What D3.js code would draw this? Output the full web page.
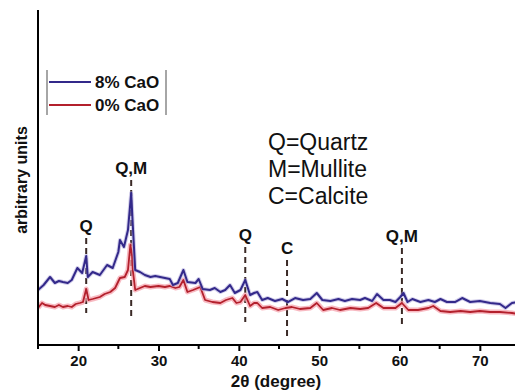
<!DOCTYPE html>
<html>
<head>
<meta charset="utf-8">
<script src="https://cdn.jsdelivr.net/npm/d3@7"></script>
<style>
  body { margin: 0; background: #fff; }
  text { font-family: "Liberation Sans", Arial, sans-serif; }
</style>
</head>
<body>
<div id="xrd"></div>
<script>
// 2theta (degree) and intensity (arbitrary units)
var twoTheta8 = [15.0, 15.7, 16.5, 17.1, 17.6, 18.1, 18.7, 19.2, 19.9, 20.5, 21.0, 21.2, 21.8, 22.7, 23.6, 24.3, 25.0, 25.2, 25.7, 26.2, 26.6, 26.8, 27.1, 27.7, 28.3, 29.0, 29.6, 30.2, 30.8, 31.4, 31.8, 32.4, 33.1, 33.6, 34.6, 35.0, 35.5, 36.4, 37.0, 37.7, 38.3, 38.9, 39.5, 40.2, 40.8, 41.4, 41.9, 42.3, 42.9, 43.6, 44.5, 45.4, 46.1, 47.0, 48.0, 48.9, 49.7, 50.4, 51.4, 52.4, 53.2, 54.1, 55.1, 55.7, 56.6, 57.2, 58.0, 58.8, 59.5, 60.1, 60.5, 61.0, 61.6, 62.6, 63.6, 64.4, 65.1, 65.9, 66.9, 67.8, 68.8, 70.0, 71.3, 72.5, 73.2, 74.0, 74.8];
var cao8 = [55, 60, 68, 62, 64, 63, 62, 65, 77, 72, 89, 68, 73, 70, 80, 77, 93, 105, 98, 115, 152, 120, 75, 73, 70, 68, 69, 68, 67, 66, 60, 62, 75, 63, 62, 66, 56, 55, 57, 53, 55, 60, 52, 55, 65, 50, 52, 53, 45, 47, 44, 46, 43, 47, 45, 46, 52, 45, 44, 46, 44, 46, 45, 47, 44, 51, 45, 45, 43, 48, 52, 43, 46, 43, 45, 43, 46, 43, 43, 47, 43, 44, 42, 41, 37, 42, 43];

var twoTheta0 = [15.0, 15.5, 15.9, 16.5, 17.1, 17.6, 18.1, 18.7, 19.2, 19.7, 20.2, 20.6, 21.0, 21.3, 21.8, 22.7, 23.3, 24.0, 24.6, 25.2, 25.8, 26.2, 26.5, 26.7, 26.8, 27.1, 27.7, 28.3, 29.0, 30.0, 30.8, 31.4, 32.1, 32.6, 33.1, 33.6, 34.3, 35.2, 35.8, 36.7, 37.7, 38.4, 39.2, 39.7, 40.2, 40.8, 41.4, 41.9, 42.3, 42.9, 43.9, 44.9, 45.8, 46.6, 47.6, 48.9, 49.7, 50.5, 51.6, 52.6, 53.9, 55.1, 56.1, 57.1, 58.0, 58.8, 59.5, 60.3, 61.1, 62.3, 63.6, 64.2, 65.1, 66.3, 67.6, 68.8, 70.0, 71.3, 72.5, 74.0, 74.8];
var cao0 = [37, 42, 40, 39, 38, 40, 38, 39, 38, 41, 42, 43, 56, 45, 46, 48, 51, 53, 57, 67, 68, 75, 100, 90, 75, 55, 57, 59, 58, 59, 58, 59, 57, 58, 65, 53, 55, 58, 45, 43, 42, 45, 47, 42, 43, 50, 39, 42, 42, 37, 38, 35, 37, 38, 36, 37, 42, 35, 37, 35, 37, 36, 37, 42, 37, 37, 37, 42, 35, 35, 37, 39, 34, 33, 34, 33, 34, 33, 33, 32, 31];

// peak markers: position, label, dashed line top / bottom (intensity)
var peakPos = [21.0, 26.6, 40.8, 46.0, 60.3];
var peakLabels = ["Q", "Q,M", "Q", "C", "Q,M"];
var peakTop = [107, 165, 98, 85, 97];
var peakBottom = [32, 25, 23, 8, 20];

var xTicks = [20, 30, 40, 50, 60, 70];
var xMinor = [15, 25, 35, 45, 55, 65, 75];
var seriesNames = ["8% CaO", "0% CaO"];
var phaseKey = ["Q=Quartz", "M=Mullite", "C=Calcite"];

var width = 515, height = 391;
var margin = {top: 10, right: 0, bottom: 46, left: 38};

var svg = d3.select("#xrd").append("svg")
  .attr("width", width)
  .attr("height", height);

var x = d3.scaleLinear().domain([15, 75]).range([margin.left, 520]);
var y = d3.scaleLinear().domain([0, 335]).range([height - margin.bottom, margin.top]);

svg.append("defs").append("clipPath").attr("id", "plot")
  .append("rect")
    .attr("x", margin.left).attr("y", margin.top)
    .attr("width", width - margin.left).attr("height", height - margin.bottom - margin.top);

var line = d3.line()
  .x(function(d) { return x(d[0]); })
  .y(function(d) { return y(d[1]); });

var blueData = d3.zip(twoTheta8, cao8);
var redData = d3.zip(twoTheta0, cao0);

var plot = svg.append("g").attr("clip-path", "url(#plot)");

// dashed peak markers
peakPos.forEach(function(p, i) {
  plot.append("line")
    .attr("x1", x(p)).attr("x2", x(p))
    .attr("y1", y(peakTop[i])).attr("y2", y(peakBottom[i]))
    .style("stroke", "#3b2a26")
    .style("stroke-width", 2)
    .style("stroke-dasharray", "6,4");
});

// 0% CaO with its pale halo
plot.append("path").datum(redData)
  .attr("d", line)
  .style("fill", "none").style("stroke", "#f5a3ad")
  .style("stroke-width", 5).style("opacity", 0.75)
  .style("stroke-linejoin", "round");
plot.append("path").datum(redData)
  .attr("d", line)
  .style("fill", "none").style("stroke", "#b3202c")
  .style("stroke-width", 1.8)
  .style("stroke-linejoin", "round");

// 8% CaO
plot.append("path").datum(blueData)
  .attr("d", line)
  .style("fill", "none").style("stroke", "#a49bd6")
  .style("stroke-width", 4).style("opacity", 0.5)
  .style("stroke-linejoin", "round");
plot.append("path").datum(blueData)
  .attr("d", line)
  .style("fill", "none").style("stroke", "#33298a")
  .style("stroke-width", 2)
  .style("stroke-linejoin", "round");

// peak labels
peakPos.forEach(function(p, i) {
  svg.append("text")
    .attr("x", x(p)).attr("y", y(peakTop[i]) - 6)
    .attr("text-anchor", "middle")
    .style("font-size", "17px").style("font-weight", "bold")
    .style("fill", "#111")
    .text(peakLabels[i]);
});

// axes
var xAxis = svg.append("g")
  .attr("transform", "translate(0," + (height - margin.bottom) + ")")
  .call(d3.axisBottom(x).tickValues(xTicks).tickSize(6).tickSizeOuter(0).tickPadding(4));
xAxis.select(".domain").style("stroke-width", 2).attr("d", "M" + margin.left + ",0H" + width);
xAxis.selectAll(".tick line").style("stroke-width", 2);
xAxis.selectAll(".tick text")
  .style("font-family", "Liberation Sans, Arial, sans-serif")
  .style("font-size", "15px").style("font-weight", "bold").style("fill", "#111");

xAxis.selectAll(".minor").data(xMinor).enter().append("line")
  .attr("class", "minor")
  .attr("x1", function(d) { return x(d); }).attr("x2", function(d) { return x(d); })
  .attr("y1", 0).attr("y2", 4)
  .style("stroke", "#000").style("stroke-width", 2);

svg.append("line")
  .attr("x1", margin.left).attr("x2", margin.left)
  .attr("y1", margin.top).attr("y2", height - margin.bottom + 1)
  .style("stroke", "#000").style("stroke-width", 2);

svg.append("text")
  .attr("x", 276).attr("y", 387)
  .attr("text-anchor", "middle")
  .style("font-size", "17px").style("font-weight", "bold").style("fill", "#111")
  .text("2θ (degree)");

svg.append("text")
  .attr("transform", "translate(27,180) rotate(-90)")
  .attr("text-anchor", "middle")
  .style("font-size", "16px").style("font-weight", "bold").style("fill", "#111")
  .text("arbitrary units");

// legend
var legend = svg.append("g");
[47, 166].forEach(function(lx) {
  legend.append("line")
    .attr("x1", lx).attr("x2", lx).attr("y1", 70).attr("y2", 115)
    .style("stroke", "#888").style("stroke-width", 1.5);
});
var legendColors = ["#33298a", "#b3202c"];
seriesNames.forEach(function(name, i) {
  var ly = 82 + i * 23;
  legend.append("line")
    .attr("x1", 49).attr("x2", 91).attr("y1", ly).attr("y2", ly)
    .style("stroke", legendColors[i]).style("stroke-width", 2);
  legend.append("text")
    .attr("x", 95).attr("y", ly + 6)
    .style("font-size", "17px").style("font-weight", "bold").style("fill", "#111")
    .text(name);
});

// phase key
phaseKey.forEach(function(t, i) {
  svg.append("text")
    .attr("x", 268).attr("y", 150 + i * 27)
    .style("font-size", "23px").style("fill", "#111")
    .text(t);
});
</script>
</body>
</html>
